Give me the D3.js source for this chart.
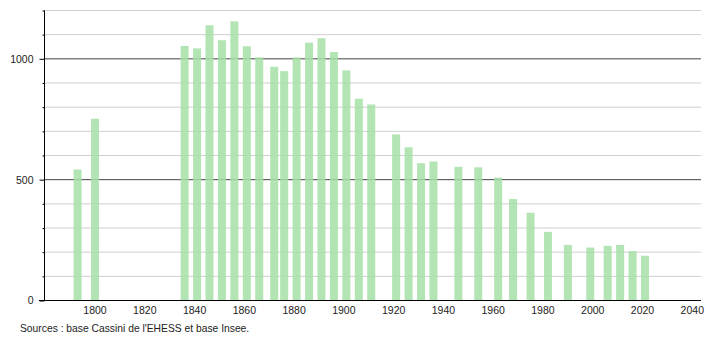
<!DOCTYPE html>
<html>
<head>
<meta charset="utf-8">
<script src="https://cdn.jsdelivr.net/npm/d3@7"></script>
<style>
body{margin:0;background:#fff;}
text{font-family:"Liberation Sans",Arial,sans-serif;}
</style>
</head>
<body>
<div id="chart"></div>
<script>
// census years and population
const years = [1793,1800,1836,1841,1846,1851,1856,1861,1866,1872,1876,1881,1886,1891,1896,1901,1906,1911,1921,1926,1931,1936,1946,1954,1962,1968,1975,1982,1990,1999,2006,2011,2016,2021];
const population = [540,750,1051,1041,1137,1075,1153,1050,1004,965,947,1004,1065,1083,1026,950,833,809,685,632,566,573,551,549,506,418,361,282,228,217,224,228,202,183];
const xTicks = [1800,1820,1840,1860,1880,1900,1920,1940,1960,1980,2000,2020,2040];
const yLabels = [0,500,1000];
const source = "Sources : base Cassini de l'EHESS et base Insee.";

const w = 710, h = 340;
const margin = {top:10, right:9, bottom:40, left:44};

const svg = d3.select("#chart").append("svg")
  .attr("width", w).attr("height", h)
  .attr("viewBox", [0,0,w,h]);

const x = d3.scaleLinear().domain([1779.5, 2043.5]).range([margin.left, w - margin.right]);
const y = d3.scaleLinear().domain([0, 1200]).range([h - margin.bottom, margin.top]);

// grid lines every 100, darker at 500s
const grid = d3.range(100, 1201, 100);
svg.append("g").selectAll("line")
  .data(grid)
  .enter().append("line")
  .attr("x1", margin.left).attr("x2", w - margin.right)
  .attr("y1", d => y(d) + 0.5).attr("y2", d => y(d) + 0.5)
  .attr("stroke", d => d % 500 == 0 ? "#444" : "#cfcfcf")
  .attr("stroke-width", 1);

// bars
const barW = 8;
svg.append("g").selectAll("rect")
  .data(years.map((d,i) => ({year:d, value:population[i]})))
  .enter().append("rect")
  .attr("x", d => x(d.year) - barW/2)
  .attr("y", d => y(d.value))
  .attr("width", barW)
  .attr("height", d => y(0) - y(d.value))
  .attr("fill", "#a6dfa6")
  .attr("fill-opacity", 0.85);

// y axis: minor ticks every 100, labelled at 0/500/1000
const yAxis = d3.axisLeft(y)
  .tickValues(d3.range(0, 1201, 100))
  .tickSize(2)
  .tickFormat(d => yLabels.includes(d) ? d : "");
const gy = svg.append("g")
  .attr("transform", `translate(${margin.left + 0.5},0.5)`)
  .call(yAxis);
gy.select(".domain").attr("stroke", "#000").attr("d", `M0,${y(1200)}V${y(0)}`);
gy.selectAll(".tick line").attr("x2", d => yLabels.includes(d) ? -5 : -2).attr("stroke", "#000");
gy.selectAll(".tick text").attr("x", -11).attr("font-size", 10.5).attr("fill", "#222")
  .attr("font-family", "'Liberation Sans',Arial,sans-serif");

// x axis line + labels
svg.append("line")
  .attr("x1", margin.left - 5).attr("x2", w - margin.right)
  .attr("y1", y(0) + 0.5).attr("y2", y(0) + 0.5)
  .attr("stroke", "#000");

svg.append("g").selectAll("text")
  .data(xTicks)
  .enter().append("text")
  .attr("x", d => x(d))
  .attr("y", y(0) + 14)
  .attr("text-anchor", "middle")
  .attr("font-size", 10.5)
  .attr("fill", "#222")
  .text(d => d);

svg.append("text")
  .attr("x", 20).attr("y", 332)
  .attr("font-size", 10.3)
  .attr("fill", "#222")
  .text(source);
</script>
</body>
</html>
